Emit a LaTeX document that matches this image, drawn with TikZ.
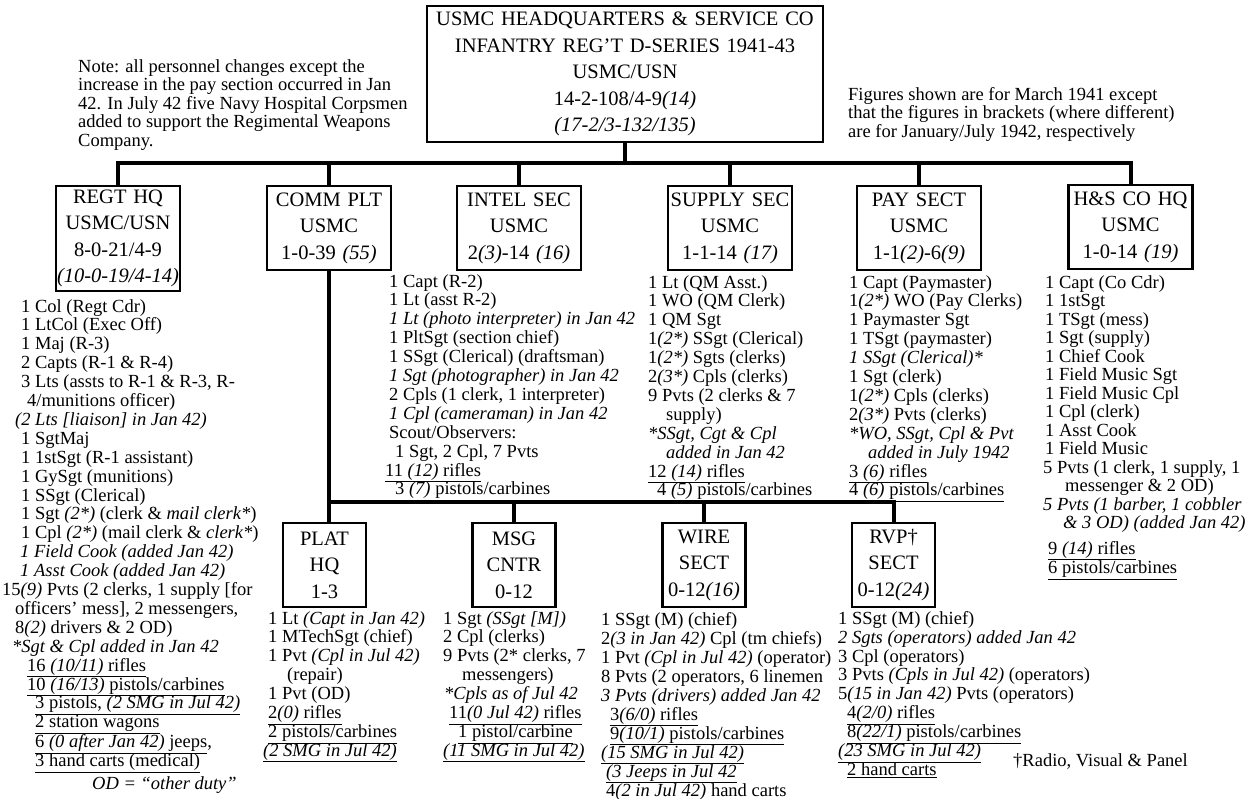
\documentclass[tikz,border=0pt]{standalone}
\usepackage{fontspec}
\setmainfont{Liberation Serif}
\begin{document}
\begin{tikzpicture}[
            x=1pt, y=-1pt,
            hqbox/.style={draw, line width=2.7pt, align=center, inner sep=0pt, text width=396pt, minimum height=136pt, font=\fontsize{20.5}{26.5}\selectfont},
            unitbox/.style={draw, line width=2.7pt, align=center, inner sep=0pt, text width=124pt, minimum height=84pt, font=\fontsize{20.5}{26.5}\selectfont},
            platbox/.style={unitbox, text width=83pt},
            roster/.style={anchor=north west, align=left, inner sep=0pt, font=\fontsize{18.5}{18.9}\selectfont},
            link/.style={draw, line width=4pt}
        ]
        \useasboundingbox (0,0) rectangle (1255,799);
        \node[hqbox] (HQ) at (625,74) {USMC HEADQUARTERS \& SERVICE CO\\INFANTRY REG'T D-SERIES 1941-43\\USMC/USN\\14-2-108/4-9\textit{(14)}\\\textit{(17-2/3-132/135)}};
        \node[unitbox, minimum height=105pt] (RH) at (118,238.5) {REGT HQ\\USMC/USN\\8-0-21/4-9\\\textit{(10-0-19/4-14)}};
        \node[unitbox] (CP) at (329,228) {COMM PLT\\USMC\\1-0-39 \textit{(55)}};
        \node[unitbox] (IS) at (519,228) {INTEL SEC\\USMC\\2\textit{(3)}-14 \textit{(16)}};
        \node[unitbox] (SS) at (730,228) {SUPPLY SEC\\USMC\\1-1-14 \textit{(17)}};
        \node[unitbox] (PS) at (919,228) {PAY SECT\\USMC\\1-1\textit{(2)}-6\textit{(9)}};
        \node[unitbox] (HS) at (1130.5,227) {H\&S CO HQ\\USMC\\1-0-14 \textit{(19)}};
        \node[platbox] (PH) at (324.5,565) {PLAT\\HQ\\1-3};
        \node[platbox] (MC) at (514,565) {MSG\\CNTR\\0-12};
        \node[platbox] (WS) at (704,565) {WIRE\\SECT\\0-12\textit{(16)}};
        \node[platbox] (RS) at (893.5,565) {RVP†\\SECT\\0-12\textit{(24)}};

        \coordinate (bar) at (624,163);
        \coordinate (bar2) at (329,502);
        \draw[link] (HQ.south) -- (HQ.south |- bar);
        \draw[link] (RH.north) -- (RH.north |- bar) -- (HS.north |- bar) -- (HS.north);
        \foreach \n in {CP,IS,SS,PS} \draw[link] (\n.north) -- (\n.north |- bar);
        \draw[link] (CP.south) -- (CP.south |- PH.north);
        \draw[link] (CP.south |- bar2) -- (RS.north |- bar2) -- (RS.north);
        \foreach \n in {MC,WS} \draw[link] (\n.north) -- (\n.north |- bar2);

        \node[roster, font=\fontsize{18.5}{18.5}\selectfont] (note) at (78,59) {Note: all personnel changes except the\\increase in the pay section occurred in Jan\\42. In July 42 five Navy Hospital Corpsmen\\added to support the Regimental Weapons\\Company.};
        \node[roster, font=\fontsize{18.5}{18.5}\selectfont] (figs) at (848,87) {Figures shown are for March 1941 except\\that the figures in brackets (where different)\\are for January/July 1942, respectively};
        \node[roster] (RHt) at (2,299) {\hspace*{19pt}1 Col (Regt Cdr)\\
            \hspace*{19pt}1 LtCol (Exec Off)\\
            \hspace*{19pt}1 Maj (R-3)\\
            \hspace*{19pt}2 Capts (R-1 \& R-4)\\
            \hspace*{19pt}3 Lts (assts to R-1 \& R-3, R-\\
            \hspace*{25pt}4/munitions officer)\\
            \hspace*{13pt}\textit{(2 Lts [liaison] in Jan 42)}\\
            \hspace*{19pt}1 SgtMaj\\
            \hspace*{19pt}1 1stSgt (R-1 assistant)\\
            \hspace*{19pt}1 GySgt (munitions)\\
            \hspace*{19pt}1 SSgt (Clerical)\\
            \hspace*{19pt}1 Sgt \textit{(2*)} (clerk \& \textit{mail clerk*})\\
            \hspace*{19pt}1 Cpl \textit{(2*)} (mail clerk \& \textit{clerk*})\\
            \hspace*{18pt}\textit{1 Field Cook (added Jan 42)}\\
            \hspace*{18pt}\textit{1 Asst Cook (added Jan 42)}\\
            15\textit{(9)} Pvts (2 clerks, 1 supply [for\\
            \hspace*{13pt}officers' mess], 2 messengers,\\
            \hspace*{13pt}8\textit{(2)} drivers \& 2 OD)\\
            \hspace*{10pt}\textit{*Sgt \& Cpl added in Jan 42}\\
            \hspace*{25pt}\underline{16 \textit{(10/11)} rifles}\\
            \hspace*{25pt}\underline{10 \textit{(16/13)} pistols/carbines}\\
            \hspace*{33pt}\underline{3 pistols, \textit{(2 SMG in Jul 42)}}\\
            \hspace*{33pt}\underline{2 station wagons}\\
            \hspace*{33pt}\underline{6 \textit{(0 after Jan 42)} jeeps},\\
            \hspace*{33pt}\underline{3 hand carts (medical)}\\[4pt]
            \hspace*{90pt}\textit{OD = “other duty”}};
        \node[roster] (ISt) at (385,274) {\hspace*{4pt}1 Capt (R-2)\\
            \hspace*{4pt}1 Lt (asst R-2)\\
            \hspace*{4pt}\textit{1 Lt (photo interpreter) in Jan 42}\\
            \hspace*{4pt}1 PltSgt (section chief)\\
            \hspace*{4pt}1 SSgt (Clerical) (draftsman)\\
            \hspace*{4pt}\textit{1 Sgt (photographer) in Jan 42}\\
            \hspace*{4pt}2 Cpls (1 clerk, 1 interpreter)\\
            \hspace*{4pt}\textit{1 Cpl (cameraman) in Jan 42}\\
            \hspace*{4pt}Scout/Observers:\\
            \hspace*{10pt}1 Sgt, 2 Cpl, 7 Pvts\\
            \underline{11 \textit{(12)} rifles}\\
            \hspace*{10pt}\underline{3 \textit{(7)} pistols/carbines}};
        \node[roster] (SSt) at (648,275) {1 Lt (QM Asst.)\\
            1 WO (QM Clerk)\\
            1 QM Sgt\\
            1\textit{(2*)} SSgt (Clerical)\\
            1\textit{(2*)} Sgts (clerks)\\
            2\textit{(3*)} Cpls (clerks)\\
            9 Pvts (2 clerks \& 7\\
            \hspace*{18pt}supply)\\
            \textit{*SSgt, Cgt \& Cpl}\\
            \hspace*{18pt}\textit{added in Jan 42}\\
            \underline{12 \textit{(14)} rifles}\\
            \hspace*{9pt}\underline{4 \textit{(5)} pistols/carbines}};
        \node[roster] (PSt) at (849,275) {1 Capt (Paymaster)\\
            1\textit{(2*)} WO (Pay Clerks)\\
            1 Paymaster Sgt\\
            1 TSgt (paymaster)\\
            \textit{1 SSgt (Clerical)*}\\
            1 Sgt (clerk)\\
            1\textit{(2*)} Cpls (clerks)\\
            2\textit{(3*)} Pvts (clerks)\\
            \textit{*WO, SSgt, Cpl \& Pvt}\\
            \hspace*{19pt}\textit{added in July 1942}\\
            \underline{3 \textit{(6)} rifles}\\
            \underline{4 \textit{(6)} pistols/carbines}};
        \node[roster, font=\fontsize{18.5}{18.5}\selectfont] (HSt) at (1043,275) {\hspace*{2pt}1 Capt (Co Cdr)\\
            \hspace*{2pt}1 1stSgt\\
            \hspace*{2pt}1 TSgt (mess)\\
            \hspace*{2pt}1 Sgt (supply)\\
            \hspace*{2pt}1 Chief Cook\\
            \hspace*{2pt}1 Field Music Sgt\\
            \hspace*{2pt}1 Field Music Cpl\\
            \hspace*{2pt}1 Cpl (clerk)\\
            \hspace*{2pt}1 Asst Cook\\
            \hspace*{2pt}1 Field Music\\
            5 Pvts (1 clerk, 1 supply, 1\\
            \hspace*{22pt}messenger \& 2 OD)\\
            \textit{5 Pvts (1 barber, 1 cobbler}\\
            \hspace*{20pt}\textit{\& 3 OD) (added Jan 42)}\\[7pt]
            \hspace*{5pt}\underline{9 \textit{(14)} rifles}\\
            \hspace*{5pt}\underline{6 pistols/carbines}};
        \node[roster] (PHt) at (263,611) {\hspace*{5pt}1 Lt \textit{(Capt in Jan 42)}\\
            \hspace*{5pt}1 MTechSgt (chief)\\
            \hspace*{5pt}1 Pvt \textit{(Cpl in Jul 42)}\\
            \hspace*{24pt}(repair)\\
            \hspace*{5pt}1 Pvt (OD)\\
            \hspace*{5pt}\underline{2\textit{(0)} rifles}\\
            \hspace*{5pt}\underline{2 pistols/carbines}\\
            \underline{\textit{(2 SMG in Jul 42)}}};
        \node[roster] (MCt) at (443,611) {1 Sgt \textit{(SSgt [M])}\\
            2 Cpl (clerks)\\
            9 Pvts (2* clerks, 7\\
            \hspace*{19pt}messengers)\\
            \hspace*{1pt}\textit{*Cpls as of Jul 42}\\
            \hspace*{6pt}\underline{11\textit{(0 Jul 42)} rifles}\\
            \hspace*{15pt}\underline{1 pistol/carbine}\\
            \underline{\textit{(11 SMG in Jul 42)}}};
        \node[roster, font=\fontsize{18.5}{19}\selectfont] (WSt) at (601,612) {1 SSgt (M) (chief)\\
            2\textit{(3 in Jan 42)} Cpl (tm chiefs)\\
            1 Pvt \textit{(Cpl in Jul 42)} (operator)\\
            8 Pvts (2 operators, 6 linemen\\
            \textit{3 Pvts (drivers) added Jan 42}\\
            \hspace*{9pt}\underline{3\textit{(6/0)} rifles}\\
            \hspace*{9pt}\underline{9\textit{(10/1)} pistols/carbines}\\
            \underline{\textit{(15 SMG in Jul 42)}}\\
            \hspace*{5pt}\underline{\textit{(3 Jeeps in Jul 42}}\\
            \hspace*{5pt}\underline{4\textit{(2 in Jul 42)} hand carts}};
        \node[roster] (RSt) at (838,611) {1 SSgt (M) (chief)\\
            \textit{2 Sgts (operators) added Jan 42}\\
            3 Cpl (operators)\\
            3 Pvts \textit{(Cpls in Jul 42)} (operators)\\
            5\textit{(15 in Jan 42)} Pvts (operators)\\
            \hspace*{9pt}\underline{4\textit{(2/0)} rifles}\\
            \hspace*{9pt}\underline{8\textit{(22/1)} pistols/carbines}\\
            \underline{\textit{(23 SMG in Jul 42)}}\\
            \hspace*{9pt}\underline{2 hand carts}};
        \node[roster] (dag) at (1013,753) {†Radio, Visual \& Panel};
    \end{tikzpicture}
\end{document}
